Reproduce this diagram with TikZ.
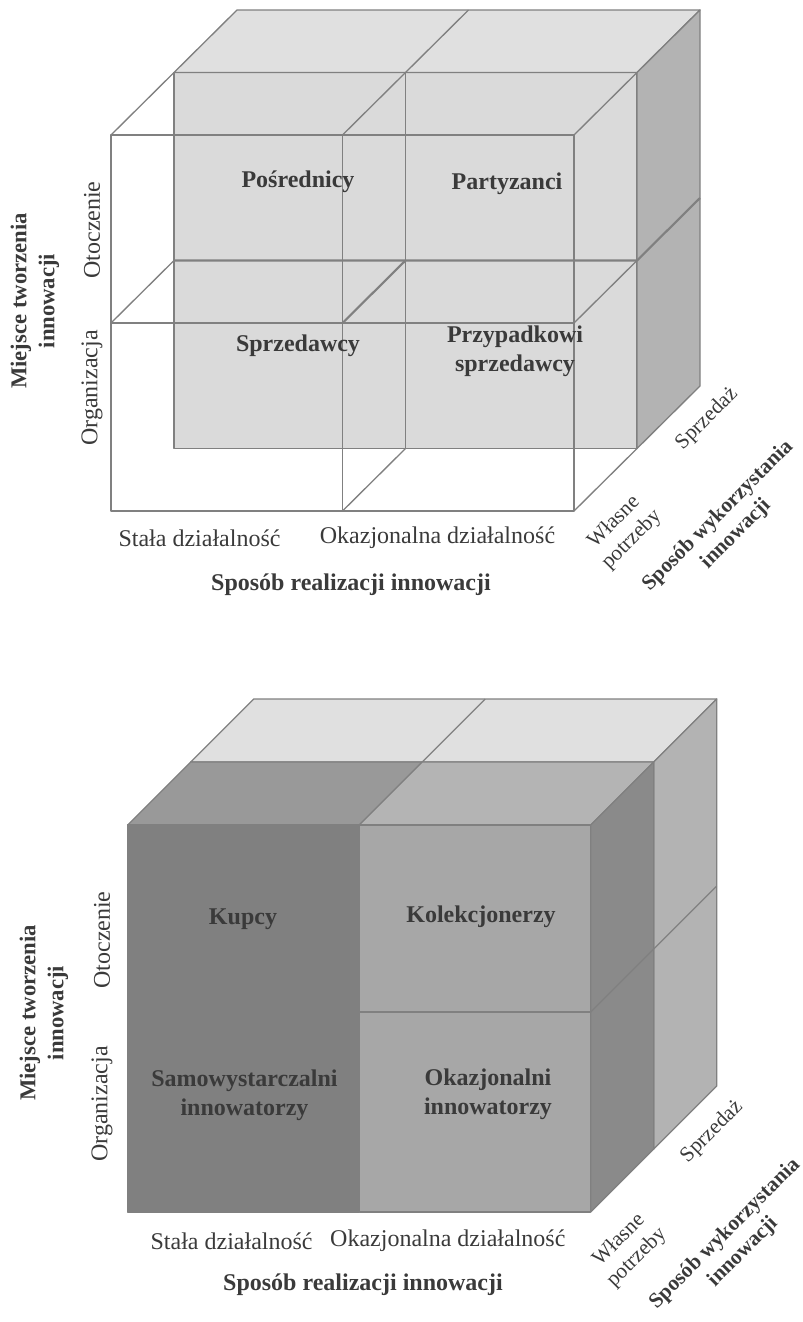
\documentclass[tikz,border=0pt]{standalone}
\usepackage{fontspec}
\setmainfont{Liberation Serif}
\definecolor{edgegray}{RGB}{128,128,128}
\definecolor{txtgray}{RGB}{58,58,58}
\definecolor{topgray}{RGB}{224,224,224}
\definecolor{backfront}{RGB}{218,218,218}
\definecolor{sidegray}{RGB}{179,179,179}
\tikzset{
  edge/.style = {draw = edgegray, line width = 1pt, line join = round},
  lab/.style = {text = txtgray, font = \fontsize{18}{22}\selectfont, align = center, inner sep = 0pt},
  blab/.style = {lab, font = \fontsize{18}{22}\selectfont\bfseries},
  vlab/.style = {lab, rotate = 90, font = \fontsize{17}{21}\selectfont\bfseries},
  dlab/.style = {lab, rotate = 45, font = \fontsize{16}{19}\selectfont},
  dblab/.style = {lab, rotate = 45, font = \fontsize{16}{19}\selectfont\bfseries}
}
\begin{document}
\begin{tikzpicture}[x = 0.75pt, y = -0.75pt]
\useasboundingbox (0,0) rectangle (803,1322);
\pgfmathsetmacro\cw{231.5}
\pgfmathsetmacro\dx{63}
% upper cube: back layer solid, front layer open
\pgfmathsetmacro\ox{111}
\pgfmathsetmacro\oy{135}
\pgfmathsetmacro\rh{188}
\pgfmathsetmacro\dy{62.5}
\draw [fill = backfront, edge] (\ox+\dx,\oy-\dy) rectangle ++(2*\cw,2*\rh);
\draw [fill = topgray, edge] (\ox+\dx,\oy-\dy) -- ++(\dx,-\dy) -- ++(2*\cw,0) -- ++(-\dx,\dy) -- cycle;
\draw [fill = sidegray, edge] (\ox+\dx+2*\cw,\oy-\dy) -- ++(\dx,-\dy) -- ++(0,2*\rh) -- ++(-\dx,\dy) -- cycle;
\draw [edge] (\ox+\dx+\cw,\oy-\dy) -- ++(\dx,-\dy);
\draw [edge] (\ox+\dx+\cw,\oy-\dy) -- ++(0,2*\rh);
\draw [edge, line width = 1.6pt] (\ox+\dx,\oy-\dy+\rh) -- ++(2*\cw,0) -- ++(\dx,-\dy);
\draw [edge] (\ox,\oy) rectangle ++(2*\cw,2*\rh);
\draw [edge] (\ox+\cw,\oy) -- ++(0,2*\rh);
\draw [edge] (\ox,\oy+\rh) -- ++(2*\cw,0);
\foreach \i/\j in {0/0,1/0,2/0,0/1,2/1,1/2,2/2} \draw [edge] (\ox+\i*\cw,\oy+\j*\rh) -- ++(\dx,-\dy);
\draw [edge, line width = 1.6pt] (\ox+\cw,\oy+\rh) -- ++(\dx,-\dy);
\node [blab] (posr) at (298,182) {Pośrednicy};
\node [blab] (party) at (507,184) {Partyzanci};
\node [blab] (sprzed) at (298,346) {Sprzedawcy};
\node [blab] (przyp) at (515,351) {Przypadkowi\\sprzedawcy};
\node [lab, rotate = 90] (oto) at (92,230) {Otoczenie};
\node [lab, rotate = 90] (org) at (92,388) {Organizacja};
\node [vlab] (miejsce) at (35,301) {Miejsce tworzenia\\innowacji};
\node [lab] (stala) at (199.5,538) {Stała działalność};
\node [lab] (okaz) at (437.5,538) {Okazjonalna działalność};
\node [blab] (realiz) at (351,585) {Sposób realizacji innowacji};
\node [dlab] (sprzedaz) at (707,419) {Sprzedaż};
\node [dlab] (wlasne) at (623,531) {Własne\\potrzeby};
\node [dblab] (wykorz) at (727,525) {Sposób wykorzystania\\innowacji};
% lower cube: both layers solid
\pgfmathsetmacro\ox{127.7}
\pgfmathsetmacro\oy{825}
\pgfmathsetmacro\rha{187}
\pgfmathsetmacro\rhb{200}
\pgfmathsetmacro\dy{63}
\draw [fill = topgray, edge] (\ox+\dx,\oy-\dy) -- ++(\dx,-\dy) -- ++(2*\cw,0) -- ++(-\dx,\dy) -- cycle;
\draw [edge] (\ox+\dx+\cw,\oy-\dy) -- ++(\dx,-\dy);
\draw [fill = sidegray, edge] (\ox+\dx+2*\cw,\oy-\dy) -- ++(\dx,-\dy) -- ++(0,\rha+\rhb) -- ++(-\dx,\dy) -- cycle;
\draw [edge] (\ox+\dx+2*\cw,\oy-\dy+\rha) -- ++(\dx,-\dy);
\definecolor{mycolor}{RGB}{153,153,153}
\draw [fill = mycolor, edge] (\ox,\oy) -- ++(\dx,-\dy) -- ++(\cw,0) -- ++(-\dx,\dy) -- cycle;
\definecolor{mycolor}{RGB}{180,180,180}
\draw [fill = mycolor, edge] (\ox+\cw,\oy) -- ++(\dx,-\dy) -- ++(\cw,0) -- ++(-\dx,\dy) -- cycle;
\definecolor{mycolor}{RGB}{138,138,138}
\draw [fill = mycolor, edge] (\ox+2*\cw,\oy) -- ++(\dx,-\dy) -- ++(0,\rha+\rhb) -- ++(-\dx,\dy) -- cycle;
\draw [edge] (\ox+2*\cw,\oy+\rha) -- ++(\dx,-\dy);
\definecolor{mycolor}{RGB}{128,128,128}
\draw [fill = mycolor, edge] (\ox,\oy) rectangle ++(\cw,\rha);
\draw [fill = mycolor, edge] (\ox,\oy+\rha) rectangle ++(\cw,\rhb);
\definecolor{mycolor}{RGB}{167,167,167}
\draw [fill = mycolor, edge] (\ox+\cw,\oy) rectangle ++(\cw,\rha);
\draw [fill = mycolor, edge] (\ox+\cw,\oy+\rha) rectangle ++(\cw,\rhb);
\node [blab] (kupcy) at (243,919) {Kupcy};
\node [blab] (kolek) at (481,917) {Kolekcjonerzy};
\node [blab] (samow) at (244.5,1095) {Samowystarczalni\\innowatorzy};
\node [blab] (okazj) at (488,1094) {Okazjonalni\\innowatorzy};
\node [lab, rotate = 90] (oto2) at (102,940) {Otoczenie};
\node [lab, rotate = 90] (org2) at (102,1104) {Organizacja};
\node [vlab] (miejsce2) at (44,1013) {Miejsce tworzenia\\innowacji};
\node [lab] (stala2) at (231.6,1241) {Stała działalność};
\node [lab] (okaz2) at (447.8,1241) {Okazjonalna działalność};
\node [blab] (realiz2) at (363,1285) {Sposób realizacji innowacji};
\node [dlab] (sprzedaz2) at (712,1132) {Sprzedaż};
\node [dlab] (wlasne2) at (628,1249) {Własne\\potrzeby};
\node [dblab] (wykorz2) at (734,1243) {Sposób wykorzystania\\innowacji};
\end{tikzpicture}
\end{document}
